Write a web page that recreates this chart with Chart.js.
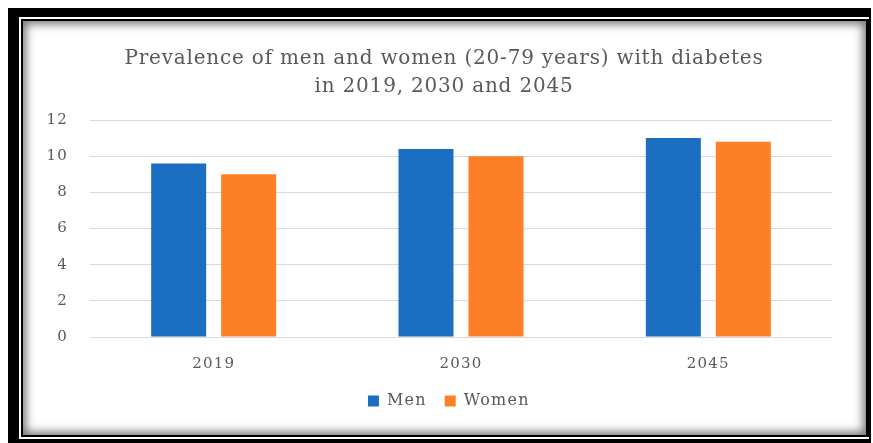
<!DOCTYPE html>
<html>
<head>
<meta charset="utf-8">
<script src="https://cdn.jsdelivr.net/npm/chart.js@4"></script>
<style>
  html, body { margin: 0; padding: 0; background: #ffffff; width: 873px; height: 443px; overflow: hidden; }
  .outer { position: absolute; left: 8px; top: 8px; width: 863px; height: 435px; background: #000; }
  .wline { position: absolute; left: 11px; top: 9px; right: 2px; bottom: 4px; background: #fff; }
  .bline { position: absolute; left: 2px; top: 2px; right: 0px; bottom: 2px; background: #000; }
  .content { position: absolute; left: 2px; top: 2px; right: 3px; bottom: 2px; background: #fff;
             box-shadow: inset 0 0 10px 3px rgba(0,0,0,0.55); }
  #wrap { position: absolute; left: 0; top: 0; width: 873px; height: 443px; }
</style>
</head>
<body>
<div class="outer"><div class="wline"><div class="bline"><div class="content"></div></div></div></div>
<div id="wrap"><canvas id="c" width="873" height="443"></canvas></div>
<script>
const titleLines = ["Prevalence of men and women (20-79 years) with diabetes", "in 2019, 2030 and 2045"];
const categories = ["2019", "2030", "2045"];
const menValues = [9.6, 10.4, 11.0];
const womenValues = [9.0, 10.0, 10.8];
const seriesNames = ["Men", "Women"];
const yTicks = [0, 2, 4, 6, 8, 10, 12];

const textColor = "#595959";
const serif = "'DejaVu Serif', 'Liberation Serif', serif";

function wrapDraw(chart, box, spacing, dx) {
  if (!box || box._wrapped) return;
  const orig = box.draw;
  box.draw = function (area) {
    const ctx = chart.ctx;
    ctx.save();
    ctx.letterSpacing = spacing;
    ctx.translate(dx, 0);
    orig.call(this, area);
    ctx.restore();
  };
  box._wrapped = true;
}

const spacingPlugin = {
  id: "spacing",
  beforeDraw(chart) {
    chart.ctx.letterSpacing = "1.2px";
    wrapDraw(chart, chart.titleBlock, "0.8px", 8);
    wrapDraw(chart, chart.legend, "1.2px", 8);
  }
};

new Chart(document.getElementById("c"), {
  type: "bar",
  data: {
    labels: categories,
    datasets: [
      { label: seriesNames[0], data: menValues, backgroundColor: "#1B6EC2", borderWidth: 0 },
      { label: seriesNames[1], data: womenValues, backgroundColor: "#FD7F26", borderWidth: 0 }
    ]
  },
  plugins: [spacingPlugin],
  options: {
    responsive: false,
    animation: false,
    layout: { padding: { left: 40, right: 41, top: 45, bottom: 24 } },
    datasets: { bar: { categoryPercentage: 0.566, barPercentage: 0.786 } },
    plugins: {
      title: {
        display: true,
        text: titleLines,
        color: textColor,
        font: { family: serif, size: 20, weight: "normal", lineHeight: 1.4 },
        padding: { top: 0, bottom: 19 }
      },
      legend: {
        position: "bottom",
        labels: {
          color: textColor,
          font: { family: serif, size: 16 },
          boxWidth: 11, boxHeight: 11, padding: 18
        }
      },
      tooltip: { enabled: false }
    },
    scales: {
      x: {
        grid: { display: false, drawTicks: false },
        border: { display: false },
        ticks: { color: textColor, font: { family: serif, size: 15 }, padding: 18 },
        afterFit: (s) => { s.height = 38; }
      },
      y: {
        min: 0, max: 12,
        afterBuildTicks: (s) => { s.ticks = yTicks.map(v => ({ value: v })); },
        grid: { color: "#d9d9d9", lineWidth: 1, drawTicks: false },
        border: { display: false },
        ticks: { color: textColor, font: { family: serif, size: 15 }, padding: 22 },
        afterFit: (s) => { s.width = 50; }
      }
    }
  }
});
</script>
</body>
</html>
